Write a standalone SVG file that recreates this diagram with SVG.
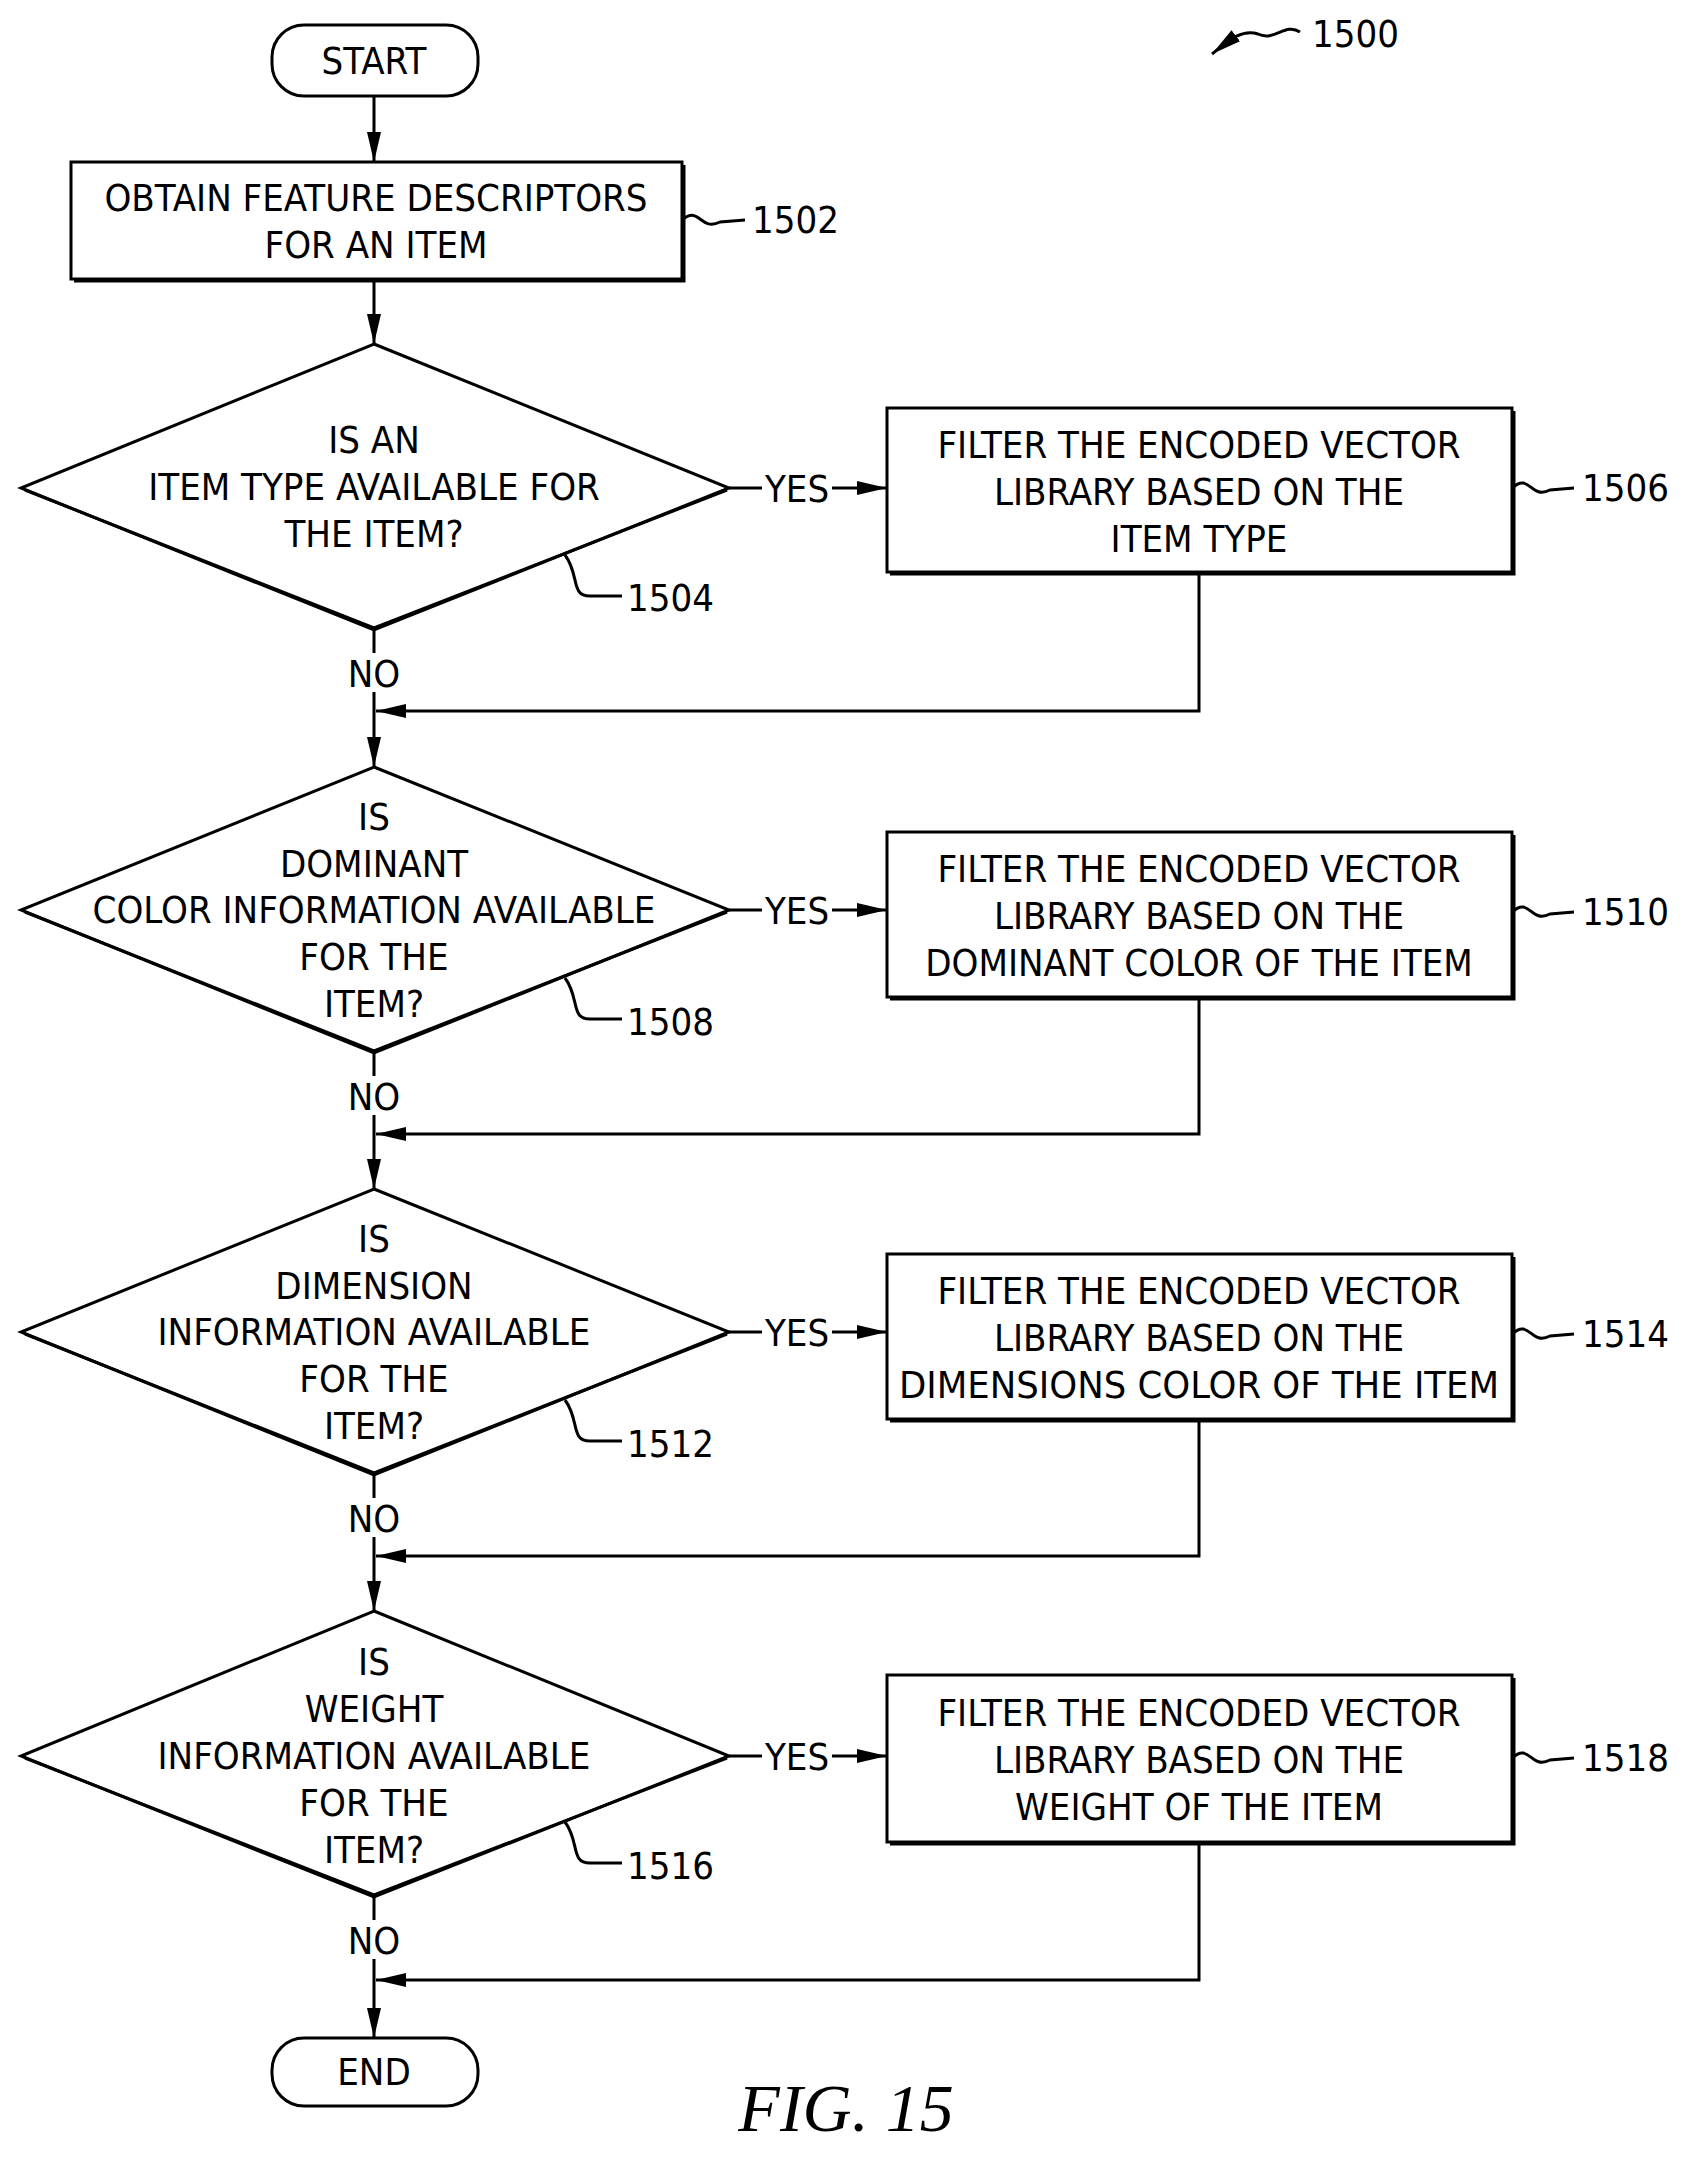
<svg xmlns="http://www.w3.org/2000/svg" width="1690" height="2162" viewBox="0 0 1690 2162">
<style>
.s{fill:none;stroke:#000;stroke-width:3}
.b{fill:#fff;stroke:#000;stroke-width:3}
.t{font-family:"DejaVu Sans Condensed","Liberation Sans",sans-serif;font-size:38px;text-anchor:middle;fill:#000}
.l{font-family:"DejaVu Sans Condensed","Liberation Sans",sans-serif;font-size:38px;fill:#000}
</style>
<defs>
<marker id="A" markerWidth="30" markerHeight="14" refX="30" refY="7" orient="auto" markerUnits="userSpaceOnUse"><path d="M0,0L30,7L0,14z"/></marker>
</defs>
<g id="connectors" class="s">
<path d="M374,96V162" marker-end="url(#A)"/>
<path d="M374,279V344" marker-end="url(#A)"/>
<path d="M374,630V653M374,692V767" marker-end="url(#A)"/>
<path d="M374,1053V1076M374,1115V1189" marker-end="url(#A)"/>
<path d="M374,1475V1498M374,1537V1611" marker-end="url(#A)"/>
<path d="M374,1897V1920M374,1959V2038" marker-end="url(#A)"/>
<path d="M1199,572V711H376" marker-end="url(#A)"/>
<path d="M1199,997V1134H376" marker-end="url(#A)"/>
<path d="M1199,1419V1556H376" marker-end="url(#A)"/>
<path d="M1199,1842V1980H376" marker-end="url(#A)"/>
<path d="M729,488H762M832,488H887" marker-end="url(#A)"/>
<path d="M729,910H762M832,910H887" marker-end="url(#A)"/>
<path d="M729,1332H762M832,1332H887" marker-end="url(#A)"/>
<path d="M729,1756H762M832,1756H887" marker-end="url(#A)"/>
</g>
<g class="t">
<text x="797" y="502">YES</text><text x="797" y="924">YES</text><text x="797" y="1346">YES</text><text x="797" y="1770">YES</text>
<text x="374" y="687">NO</text><text x="374" y="1110">NO</text><text x="374" y="1532">NO</text><text x="374" y="1954">NO</text>
</g>
<g id="start"><rect x="272" y="25" width="206" height="71" rx="32" class="b" stroke-width="4"/><text class="t" x="374" y="74">START</text></g>
<g id="end"><rect x="272" y="2038" width="206" height="68" rx="32" class="b" stroke-width="4"/><text class="t" x="374" y="2085">END</text></g>
<g id="n1502"><rect x="71" y="162" width="611" height="117" class="b"/><path class="s" stroke-width="3" d="M74,281H684V165"/>
<text class="t" x="376" y="211">OBTAIN FEATURE DESCRIPTORS</text><text class="t" x="376" y="258">FOR AN ITEM</text>
<path class="s" stroke-width="2" d="M682,220C700,205 700,232 720,222L745,220"/><text class="l" x="752" y="233">1502</text></g>
<g id="d1504"><polygon points="374,344 729,488 374,630 21,488" class="b"/><path class="s" stroke-width="8" d="M25,490L374,628L727,490"/>
<text class="t" x="374" y="453">IS AN</text><text class="t" x="374" y="500">ITEM TYPE AVAILABLE FOR</text><text class="t" x="374" y="547">THE ITEM?</text>
<path class="s" stroke-width="2" d="M565,555C580,575 570,596 590,596H622"/><text class="l" x="627" y="611">1504</text></g>
<g id="d1508"><polygon points="374,767 729,910 374,1053 21,910" class="b"/><path class="s" stroke-width="8" d="M25,912L374,1051L727,912"/>
<text class="t" x="374" y="830">IS</text><text class="t" x="374" y="877">DOMINANT</text><text class="t" x="374" y="923">COLOR INFORMATION AVAILABLE</text><text class="t" x="374" y="970">FOR THE</text><text class="t" x="374" y="1017">ITEM?</text>
<path class="s" stroke-width="2" d="M565,978C580,998 570,1019 590,1019H622"/><text class="l" x="627" y="1035">1508</text></g>
<g id="d1512"><polygon points="374,1189 729,1332 374,1475 21,1332" class="b"/><path class="s" stroke-width="8" d="M25,1334L374,1473L727,1334"/>
<text class="t" x="374" y="1252">IS</text><text class="t" x="374" y="1299">DIMENSION</text><text class="t" x="374" y="1345">INFORMATION AVAILABLE</text><text class="t" x="374" y="1392">FOR THE</text><text class="t" x="374" y="1439">ITEM?</text>
<path class="s" stroke-width="2" d="M565,1400C580,1420 570,1441 590,1441H622"/><text class="l" x="627" y="1457">1512</text></g>
<g id="d1516"><polygon points="374,1611 729,1756 374,1897 21,1756" class="b"/><path class="s" stroke-width="8" d="M25,1758L374,1895L727,1758"/>
<text class="t" x="374" y="1675">IS</text><text class="t" x="374" y="1722">WEIGHT</text><text class="t" x="374" y="1769">INFORMATION AVAILABLE</text><text class="t" x="374" y="1816">FOR THE</text><text class="t" x="374" y="1863">ITEM?</text>
<path class="s" stroke-width="2" d="M565,1822C580,1842 570,1863 590,1863H622"/><text class="l" x="627" y="1879">1516</text></g>
<g id="n1506"><rect x="887" y="408" width="625" height="164" class="b"/><path class="s" d="M890,574H1514V411"/>
<text class="t" x="1199" y="458">FILTER THE ENCODED VECTOR</text><text class="t" x="1199" y="505">LIBRARY BASED ON THE</text><text class="t" x="1199" y="552">ITEM TYPE</text>
<path class="s" stroke-width="2" d="M1512,488C1530,472 1530,500 1550,490L1574,488"/><text class="l" x="1582" y="501">1506</text></g>
<g id="n1510"><rect x="887" y="832" width="625" height="165" class="b"/><path class="s" d="M890,999H1514V835"/>
<text class="t" x="1199" y="882">FILTER THE ENCODED VECTOR</text><text class="t" x="1199" y="929">LIBRARY BASED ON THE</text><text class="t" x="1199" y="976">DOMINANT COLOR OF THE ITEM</text>
<path class="s" stroke-width="2" d="M1512,912C1530,896 1530,924 1550,914L1574,912"/><text class="l" x="1582" y="925">1510</text></g>
<g id="n1514"><rect x="887" y="1254" width="625" height="165" class="b"/><path class="s" d="M890,1421H1514V1257"/>
<text class="t" x="1199" y="1304">FILTER THE ENCODED VECTOR</text><text class="t" x="1199" y="1351">LIBRARY BASED ON THE</text><text class="t" x="1199" y="1398" textLength="600" lengthAdjust="spacingAndGlyphs">DIMENSIONS COLOR OF THE ITEM</text>
<path class="s" stroke-width="2" d="M1512,1334C1530,1318 1530,1346 1550,1336L1574,1334"/><text class="l" x="1582" y="1347">1514</text></g>
<g id="n1518"><rect x="887" y="1675" width="625" height="167" class="b"/><path class="s" d="M890,1844H1514V1678"/>
<text class="t" x="1199" y="1726">FILTER THE ENCODED VECTOR</text><text class="t" x="1199" y="1773">LIBRARY BASED ON THE</text><text class="t" x="1199" y="1820">WEIGHT OF THE ITEM</text>
<path class="s" stroke-width="2" d="M1512,1758C1530,1742 1530,1770 1550,1760L1574,1758"/><text class="l" x="1582" y="1771">1518</text></g>
<g id="ref1500"><path class="s" stroke-width="2" d="M1300,32C1285,22 1275,42 1258,34C1240,28 1225,44 1212,54" marker-end="url(#A)"/><text class="l" x="1312" y="47">1500</text></g>
<text x="846" y="2131" font-family="Liberation Serif,serif" font-style="italic" font-size="68" text-anchor="middle">FIG. 15</text>
</svg>
